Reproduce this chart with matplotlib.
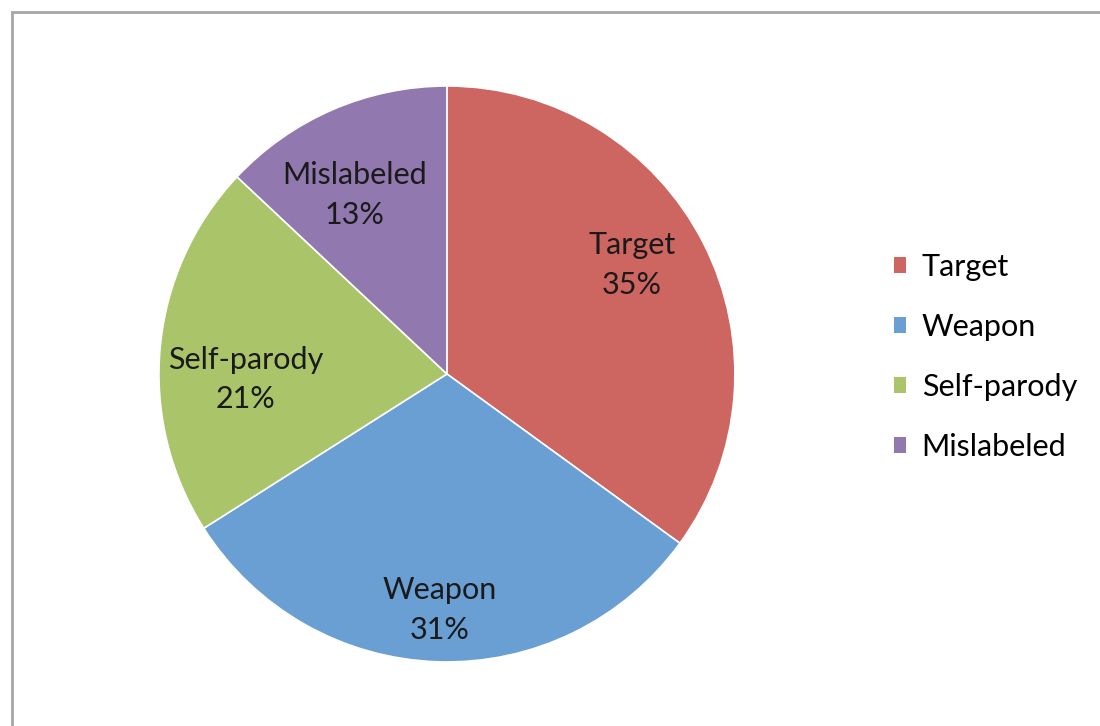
import numpy as np
import matplotlib

matplotlib.use("Agg")
import matplotlib.pyplot as plt
from matplotlib.patches import Patch, Rectangle

categories = ["Target", "Weapon", "Self-parody", "Mislabeled"]
shares = [35, 31, 21, 13]
colors = ["#CD6560", "#6A9FD4", "#AAC46A", "#9179B0"]

# label placement: fraction of radius, and a small turn (deg) off the slice middle
label_radius = [0.745, 0.82, 0.70, 0.70]
label_turn = [3.5, 0.0, 7.0, 4.0]

plt.rcParams["font.family"] = ["Lato", "DejaVu Sans"]
font_size = 22

fig = plt.figure(figsize=(11, 7.26), dpi=100)

# thin grey frame around the chart area
fig.patches.append(Rectangle((12 / 1100, -0.1), 1.2, (726 - 12) / 726 + 0.1,
                             transform=fig.transFigure, fill=False,
                             edgecolor="#A6A6A6", linewidth=2))

ax = fig.add_axes([0.1445, 0.0882, 0.5236, 0.7934])
wedges, _ = ax.pie(shares, colors=colors, startangle=90, counterclock=False,
                   wedgeprops=dict(edgecolor="white", linewidth=1.2))
ax.set_xlim(-1, 1)
ax.set_ylim(-1, 1)
ax.set_aspect("equal")
ax.axis("off")

for w, name, pct, r, turn in zip(wedges, categories, shares, label_radius, label_turn):
    mid = np.deg2rad((w.theta1 + w.theta2) / 2 + turn)
    ax.text(r * np.cos(mid), r * np.sin(mid), f"{name}\n{pct}%",
            ha="center", va="center", fontsize=font_size, color="#1A1A1A",
            linespacing=1.5)

handles = [Patch(facecolor=c, edgecolor="none") for c in colors]
fig.legend(handles, categories, loc="center left",
           bbox_to_anchor=(866 / 1100, (726 - 357) / 726),
           frameon=False, fontsize=font_size, handlelength=0.42,
           handleheight=0.42, handletextpad=0.5, labelspacing=1.05)

fig.savefig("out.png", dpi=100)
